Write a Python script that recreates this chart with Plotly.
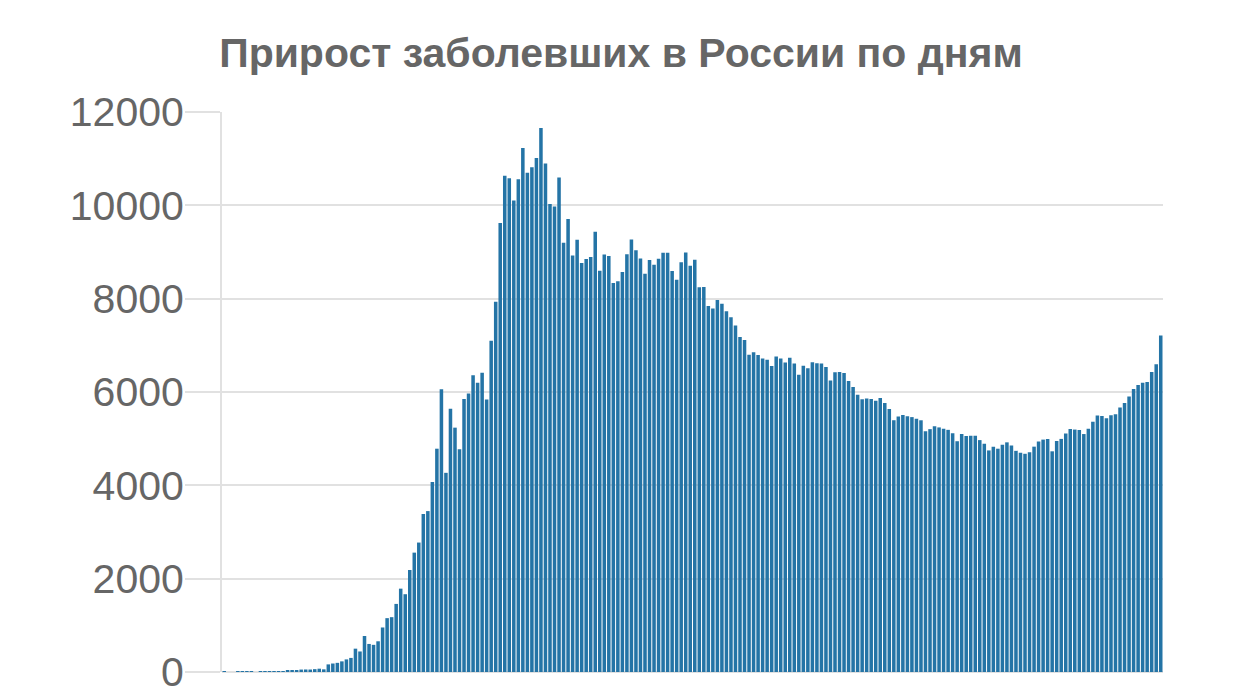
import plotly.graph_objects as go
import pandas as pd

# Daily new cases in Russia, 2 March – 25 September 2020
start_date = "2020-03-02"
mar = [1, 0, 0, 1, 6, 4, 3, 0, 3, 8, 6, 11, 14, 4, 27, 24, 33, 52, 54, 53, 61, 71, 57,
       163, 182, 196, 228, 270, 302, 500]
apr = [440, 771, 601, 582, 658, 954, 1154, 1175, 1459, 1786, 1667, 2186, 2558, 2774, 3388,
       3448, 4070, 4785, 6060, 4268, 5642, 5236, 4774, 5849, 5966, 6361, 6198, 6411, 5841, 7099]
may = [7933, 9623, 10633, 10581, 10102, 10559, 11231, 10699, 10817, 11012, 11656, 10899,
       10028, 9974, 10598, 9200, 9709, 8926, 9263, 8764, 8849, 8894, 9434, 8599, 8946, 8915,
       8338, 8371, 8572, 8952, 9268]
jun = [9035, 8863, 8536, 8831, 8726, 8855, 8984, 8985, 8595, 8404, 8779, 8987, 8706, 8835,
       8246, 8248, 7843, 7790, 7972, 7889, 7728, 7600, 7425, 7176, 7113, 6800, 6852, 6791,
       6719, 6693]
jul = [6556, 6760, 6718, 6632, 6736, 6611, 6368, 6562, 6509, 6635, 6615, 6611, 6537, 6248,
       6422, 6428, 6406, 6234, 6109, 5940, 5842, 5862, 5848, 5811, 5871, 5765, 5635, 5395,
       5475, 5509, 5482]
aug = [5462, 5427, 5394, 5159, 5204, 5267, 5241, 5212, 5189, 5118, 4945, 5102, 5057, 5065,
       5061, 4969, 4892, 4748, 4828, 4785, 4870, 4921, 4852, 4739, 4696, 4676, 4711, 4829,
       4941, 4980, 4993]
sep = [4729, 4952, 4995, 5110, 5205, 5195, 5185, 5099, 5211, 5363, 5495, 5488, 5440, 5504,
       5525, 5670, 5762, 5905, 6065, 6148, 6196, 6215, 6431, 6595, 7212]

values = mar + apr + may + jun + jul + aug + sep
dates = pd.date_range(start_date, periods=len(values), freq="D")

y_ticks = [0, 2000, 4000, 6000, 8000, 10000, 12000]
title_text = "Прирост заболевших в России по дням"

grid_col = "rgba(200,200,200,0.55)"

fig = go.Figure(go.Bar(
    x=dates, y=values,
    marker=dict(color="#2474a6", line=dict(width=0)),
    hoverinfo="x+y",
))

fig.update_layout(
    width=1242, height=694,
    margin=dict(l=222, r=79, t=112, b=22),
    paper_bgcolor="white", plot_bgcolor="white",
    bargap=0.22,
    showlegend=False,
    title=dict(text=title_text, x=0.5, xref="container", xanchor="center",
               y=1 - 53 / 694, yref="container", yanchor="middle",
               font=dict(family="Liberation Sans", size=41, color="#666666", weight="bold")),
    font=dict(family="Liberation Sans", color="#666666"),
)

fig.update_xaxes(
    type="date", automargin=False,
    range=[dates[0] - pd.Timedelta(hours=12), dates[-1] + pd.Timedelta(hours=12)],
    showticklabels=False, showgrid=False, ticks="", showline=False, zeroline=False,
)
fig.update_yaxes(
    automargin=False,
    range=[0, 12000], tickvals=y_ticks, ticktext=[str(v) for v in y_ticks],
    showgrid=True, gridcolor=grid_col, gridwidth=2,
    zeroline=True, zerolinecolor=grid_col, zerolinewidth=2,
    showline=True, linecolor=grid_col, linewidth=2,
    ticks="outside", ticklen=35, tickcolor=grid_col, tickwidth=2,
    ticklabelstandoff=-7, ticklabeloverflow="allow",
    tickfont=dict(family="Liberation Sans", size=41, color="#666666"),
    layer="above traces",
)

fig.write_html(
    "out.html",
    config={"displayModeBar": False},
    post_script="document.body.style.margin='0';document.body.style.overflow='hidden';",
)
